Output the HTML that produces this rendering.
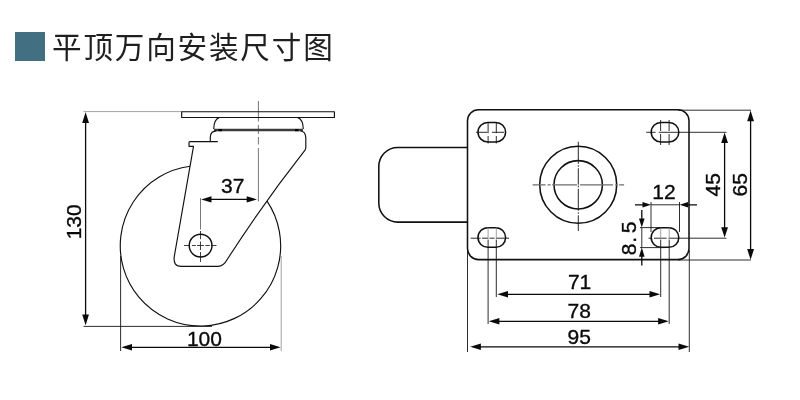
<!DOCTYPE html>
<html lang="zh-CN">
<head>
<meta charset="utf-8">
<title>平顶万向安装尺寸图</title>
<style>
  html, body { margin: 0; padding: 0; background: #ffffff; }
  body { width: 800px; height: 400px; overflow: hidden; position: relative; }
  .sq { position: absolute; left: 15px; top: 32px; width: 30px; height: 29px; background: #426f82; }
  .title {
    position: absolute; left: 52px; top: 25.5px; margin: 0;
    font-family: "Liberation Sans", "Noto Sans CJK SC", sans-serif;
    font-weight: 400; font-size: 29.6px; line-height: 44px; letter-spacing: 1.8px; will-change: transform;
    color: #1f1f1f; white-space: nowrap;
  }
  svg { position: absolute; left: 0; top: 0; will-change: transform; }
  svg text { font-family: "Liberation Sans", sans-serif; font-size: 21px; fill: #0a0a0a; stroke: #0a0a0a; stroke-width: 0.35px; }
  .m { fill: none; stroke: #111; stroke-width: 1.15; stroke-linejoin: round; stroke-linecap: butt; }
  #top .m { stroke-width: 1.55; }
  .d { fill: none; stroke: #0a0a0a; stroke-width: 1.3; }
  .e { fill: none; stroke: #161616; stroke-width: 0.9; }
  .el { fill: none; stroke: #8a8a8a; stroke-width: 0.8; }
  .c { fill: none; stroke: #666; stroke-width: 0.9; stroke-dasharray: 9 2 2 2; }
  .a { fill: #0a0a0a; stroke: none; }
</style>
</head>
<body>
<div class="sq"></div>
<h1 class="title">平顶万向安装尺寸图</h1>

<svg width="800" height="400" viewBox="0 0 800 400">

  <!-- ================= LEFT: side view ================= -->
  <g id="side">
    <!-- extension lines -->
    <path class="el" d="M83.5 111.6H182"/>
    <path class="e" d="M83.5 326.4H212"/>
    <path class="e" d="M120.6 256V351"/>
    <path class="el" d="M281.2 256V351"/>
    <path class="e" style="stroke:#555;stroke-width:0.8" d="M200.5 198V229.5"/><path class="e" style="stroke:#2a2a2a" d="M200.5 231V239.2M200.5 241.5V250M200.5 252V262"/>
    <path class="e" style="stroke:#2a2a2a" d="M184 245.5H190M192 245.5H195.8M197 245.5H204M205.5 245.5H209.8M211 245.5H216.5"/>
    <path class="c" style="stroke-dasharray:20.5 3.5 9 3 7.5 3.5 60" d="M258.4 101V201.5"/>

    <!-- top plate -->
    <rect class="m" x="181.7" y="111.7" width="152.7" height="5.8"/>
    <!-- bearing cap -->
    <path class="m" d="M219.2 117.6Q213.9 119.5 213.7 128.9"/>
    <path class="m" d="M297.8 117.6Q303.1 119.5 303.3 128.9"/>
    <path d="M214 129.9H303" fill="none" stroke="#3c3c3c" stroke-width="2.5"/>
    <path d="M218.5 130.1H222M295 130.1H298.5" fill="none" stroke="#000" stroke-width="2.4"/>
    <!-- fork -->
    <path class="m" d="M216.5 130.9Q210.5 131.2 210.3 137V141.6"/>
    <path class="m" d="M217.8 141.6H190Q189 141.6 189 142.6V146.3H193.5L174.3 256.4Q172.9 266.3 181 266.3H218Q223.6 266.3 227.5 259Q262.6 204.25 305 150.2Q305.8 149 305.8 147.5V138Q305.6 131.4 300.5 131"/>
    <!-- wheel -->
    <path class="m" d="M190 166.3A80.2 80.2 0 1 0 266.9 200.9"/>
    <circle class="m" style="stroke-width:1.45" cx="200.6" cy="245.6" r="11.4"/>

    <!-- 130 -->
    <path class="d" d="M85.6 120V318"/>
    <path class="a" d="M85.6 112L89 123H82.2Z"/>
    <path class="a" d="M85.6 325.2L89 314.5H82.2Z"/>
    <text transform="translate(80.9 221.8) rotate(-90)" text-anchor="middle">130</text>
    <!-- 100 -->
    <path class="d" d="M130 347.3H272"/>
    <path class="a" d="M121.3 347.3L132 344V350.6Z"/>
    <path class="a" d="M280.6 347.3L270 344V350.6Z"/>
    <text x="204.4" y="345.9" text-anchor="middle">100</text>
    <!-- 37 -->
    <path class="d" d="M209 199.4H249"/>
    <path class="a" d="M201.2 199.4L211.5 196.2V202.6Z"/>
    <path class="a" d="M257 199.4L246.7 196.2V202.6Z"/>
    <text x="232.8" y="193.2" text-anchor="middle">37</text>
  </g>

  <!-- ================= RIGHT: top view ================= -->
  <g id="top">
    <!-- wheel -->
    <path class="m" d="M467.5 147.5H397.8A19 19 0 0 0 378.8 166.5V203.1A19 19 0 0 0 397.8 222.1H467.5"/>
    <!-- plate -->
    <rect class="m" x="467.5" y="109.8" width="221.5" height="149.8" rx="11" ry="11"/>
    <!-- slots -->
    <rect class="m" x="478" y="122.4" width="27.6" height="19.6" rx="9.8"/>
    <rect class="m" x="651.2" y="122.4" width="27.6" height="19.6" rx="9.8"/>
    <rect class="m" x="478" y="227.7" width="27.6" height="19.6" rx="9.8"/>
    <rect class="m" x="651.2" y="227.7" width="27.6" height="19.6" rx="9.8"/>
    <!-- swivel circles -->
    <circle class="m" cx="578.2" cy="184.8" r="38.5"/>
    <circle class="m" cx="578.2" cy="184.8" r="24.2"/>
    <path d="M578.3 141.8V231" fill="none" stroke="#1a1a1a" stroke-width="0.95" stroke-dasharray="22 1.5 1.5 1.5 16 1.5 1.5 1.5 22 1.5 1.5 1.5 18"/>
    <path d="M532.6 184.8H624.2" fill="none" stroke="#6e6e6e" stroke-width="1.2" stroke-dasharray="13 2 3 1.5 25 1 1 1 33 2 2.5 1.5 5"/>

    <!-- slot centre marks -->
    <path class="e" d="M488.1 123V133.2M488.1 136V143.5M496.3 123V133.2M496.3 136V143.5"/>
    <path class="e" d="M476 132.3H487.5M492 132.3H504"/>
    <path class="e" d="M660.6 120V131M660.6 134V145M669.1 120V131M669.1 134V145"/>
    <path class="e" d="M646.2 132.3H655.6M658.8 132.3H726.5"/>
    <path class="e" style="stroke-dasharray:10 1.5 6 1.5 5 1.5 13" d="M470.6 238.2H509.4"/>
    <path class="e" d="M648.5 238.2H652M654 238.2H666.5M668.5 238.2H726.5"/>

    <!-- vertical extension lines (bottom) -->
    <path class="e" d="M467.5 250V352"/>
    <path class="e" d="M488.1 240V324"/><path class="el" d="M488.1 227.4V240"/>
    <path class="e" d="M496.3 240V297"/><path class="el" d="M496.3 227.4V240"/>
    <path class="e" d="M660.7 240V297"/><path class="el" d="M660.7 227.4V240"/>
    <path class="e" d="M669.2 240V324"/><path class="el" d="M669.2 227.4V240"/>
    <path class="e" d="M689.3 250V352"/>
    <!-- horizontal extension lines (right) -->
    <path class="e" d="M678 110.2H751"/>
    <path class="e" d="M678 260H751"/>

    <!-- 71 -->
    <path class="d" d="M506 294.3H652"/>
    <path class="a" d="M497.3 294.3L508 291V297.6Z"/>
    <path class="a" d="M660.2 294.3L649.5 291V297.6Z"/>
    <text x="579.6" y="288.6" text-anchor="middle">71</text>
    <!-- 78 -->
    <path class="d" d="M497 321.3H660"/>
    <path class="a" d="M488.7 321.3L499.4 318V324.6Z"/>
    <path class="a" d="M668.8 321.3L658.1 318V324.6Z"/>
    <text x="579.3" y="318" text-anchor="middle">78</text>
    <!-- 95 -->
    <path class="d" d="M480 346.8H681"/>
    <path class="a" d="M470.2 346.8L480.9 343.5V350.1Z"/>
    <path class="a" d="M689.2 346.8L678.5 343.5V350.1Z"/>
    <text x="579.3" y="343.6" text-anchor="middle">95</text>

    <!-- 45 -->
    <path class="d" d="M724.6 141V229"/>
    <path class="a" d="M724.6 132.6L728 143H721.2Z"/>
    <path class="a" d="M724.6 237.6L728 227.2H721.2Z"/>
    <text transform="translate(720.1 184.8) rotate(-90)" text-anchor="middle">45</text>
    <!-- 65 -->
    <path class="d" d="M750.6 119V251"/>
    <path class="a" d="M750.6 110.4L754 121.2H747.2Z"/>
    <path class="a" d="M750.6 259.8L754 249H747.2Z"/>
    <text transform="translate(747.3 184.8) rotate(-90)" text-anchor="middle">65</text>

    <!-- 12 -->
    <path class="e" d="M651 202V232M679.5 202V232"/>
    <path class="e" d="M651 204.8H680"/>
    <path class="d" d="M635 204.8H644M688 204.8H697"/>
    <path class="a" d="M651 204.8L642.5 202V207.6Z"/>
    <path class="a" d="M679.6 204.8L688.1 202V207.6Z"/>
    <text x="664" y="199.4" text-anchor="middle">12</text>

    <!-- 8.5 -->
    <path class="e" d="M640 227.6H661M640 247.6H665"/>
    <path class="e" d="M641.8 227.6V247.6"/>
    <path class="d" d="M641.8 210V220M641.8 256V265.5"/>
    <path class="a" d="M641.8 227.6L639 218.5H644.6Z"/>
    <path class="a" d="M641.8 247.6L639 256.7H644.6Z"/>
    <text transform="translate(636 238.5) rotate(-90)" text-anchor="middle">8<tspan dx="1">.</tspan><tspan dx="3.5">5</tspan></text>
  </g>
</svg>
</body>
</html>
